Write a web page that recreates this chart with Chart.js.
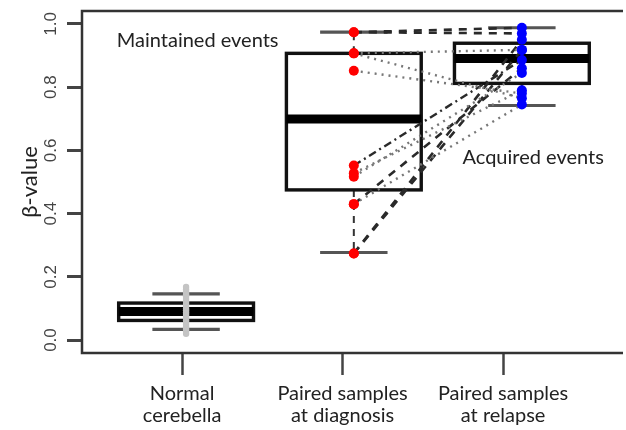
<!DOCTYPE html>
<html>
<head>
<meta charset="utf-8">
<script src="https://cdn.jsdelivr.net/npm/chart.js@4.4.1/dist/chart.umd.min.js"></script>
<style>
  html, body { margin: 0; padding: 0; background: #fff; overflow: hidden; }
  #wrap { width: 626px; height: 430px; position: relative; }
</style>
</head>
<body>
<div id="wrap"><canvas id="chart"></canvas></div>
<script>
'use strict';

/* Groups on the x axis */
const groupLabels  = [['Normal', 'cerebella'], ['Paired samples', 'at diagnosis'], ['Paired samples', 'at relapse']];
const groupTicks   = [1, 2, 3];
const groupCenters = [1.025, 2.07, 3.117];
const yTicks       = [0, 0.2, 0.4, 0.6, 0.8, 1.0];

/* Box statistics per group */
const whiskerLow  = [0.034, 0.277, 0.742];
const boxQ1       = [0.062, 0.475, 0.812];
const boxMedian   = [0.090, 0.699, 0.891];
const boxQ3       = [0.117, 0.907, 0.939];
const whiskerHigh = [0.146, 0.974, 0.988];

/* Normal cerebella samples */
const normalValues = [0.168, 0.16, 0.152, 0.145, 0.138, 0.13, 0.122, 0.115, 0.108, 0.1, 0.094,
                      0.088, 0.082, 0.076, 0.07, 0.063, 0.056, 0.049, 0.042, 0.035, 0.028, 0.02];

/* Paired events: value at diagnosis -> value at relapse */
const diagnosisValues = [0.974, 0.974, 0.907, 0.907, 0.852, 0.552, 0.528, 0.517, 0.430, 0.430, 0.274, 0.274];
const relapseValues   = [0.988, 0.970, 0.918, 0.765, 0.780, 0.886, 0.790, 0.845, 0.745, 0.860, 0.918, 0.950];
const pairLineTypes   = ['dash', 'dash', 'dot', 'dot', 'dot', 'dotdash', 'dot', 'dot', 'dot', 'dash', 'dash', 'dash'];

/* Free text labels (data coordinates) */
const notes = [
  { text: 'Maintained events', x: 0.593, y: 0.949 },
  { text: 'Acquired events',   x: 2.747, y: 0.576 },
];

const FONT = 'Lato, "Open Sans", sans-serif';
const BOX_HALF = 0.42;
const WHISKER_HALF = 0.21;

const dashFor = {
  dash:    { dash: [8, 7], color: '#2a2a2a', width: 2.6 },
  dot:     { dash: [2, 5], color: '#777', width: 2.4 },
  dotdash: { dash: [8, 4, 2, 4], color: '#2a2a2a', width: 2.4 },
};

/* Boxes and whiskers under the data */
const boxPlugin = {
  id: 'boxes',
  beforeDatasetsDraw(chart) {
    const { ctx, scales: { x, y } } = chart;
    ctx.save();
    groupCenters.forEach((c, i) => {
      const cx = x.getPixelForValue(c);
      const bl = x.getPixelForValue(c - BOX_HALF);
      const br = x.getPixelForValue(c + BOX_HALF);
      const wl = x.getPixelForValue(c - WHISKER_HALF);
      const wr = x.getPixelForValue(c + WHISKER_HALF);
      const yLo = y.getPixelForValue(whiskerLow[i]);
      const yQ1 = y.getPixelForValue(boxQ1[i]);
      const yMd = y.getPixelForValue(boxMedian[i]);
      const yQ3 = y.getPixelForValue(boxQ3[i]);
      const yHi = y.getPixelForValue(whiskerHigh[i]);

      /* whisker stems */
      ctx.strokeStyle = '#333';
      ctx.lineWidth = 2;
      ctx.setLineDash([7, 6]);
      ctx.beginPath();
      ctx.moveTo(cx, yQ1); ctx.lineTo(cx, yLo);
      ctx.moveTo(cx, yQ3); ctx.lineTo(cx, yHi);
      ctx.stroke();
      ctx.setLineDash([]);

      /* staples */
      ctx.strokeStyle = '#555';
      ctx.lineWidth = 3.2;
      ctx.beginPath();
      ctx.moveTo(wl, yLo); ctx.lineTo(wr, yLo);
      ctx.moveTo(wl, yHi); ctx.lineTo(wr, yHi);
      ctx.stroke();

      /* box */
      ctx.fillStyle = '#fff';
      ctx.fillRect(bl, yQ3, br - bl, yQ1 - yQ3);
      ctx.strokeStyle = '#111';
      ctx.lineWidth = 3.4;
      ctx.strokeRect(bl, yQ3, br - bl, yQ1 - yQ3);

      /* median */
      ctx.strokeStyle = '#000';
      ctx.lineWidth = 9;
      ctx.beginPath();
      ctx.moveTo(bl, yMd); ctx.lineTo(br, yMd);
      ctx.stroke();
    });
    ctx.restore();
  },
  afterDraw(chart) {
    const { ctx, chartArea: a, scales: { x, y } } = chart;
    ctx.save();

    /* plot frame (open on the right) */
    ctx.strokeStyle = '#333';
    ctx.lineWidth = 2.5;
    ctx.beginPath();
    ctx.moveTo(a.right + 2, a.top);
    ctx.lineTo(a.left, a.top);
    ctx.lineTo(a.left, a.bottom);
    ctx.lineTo(a.right + 2, a.bottom);
    ctx.stroke();

    /* rotated y tick labels */
    ctx.fillStyle = '#444';
    ctx.font = '17px "Liberation Sans", Arial, sans-serif';
    ctx.textAlign = 'center';
    ctx.textBaseline = 'middle';
    yTicks.forEach(v => {
      ctx.save();
      ctx.translate(51, y.getPixelForValue(v));
      ctx.rotate(-Math.PI / 2);
      ctx.fillText(v.toFixed(1), 0, 0);
      ctx.restore();
    });

    /* notes */
    ctx.fillStyle = '#222';
    ctx.font = '20px ' + FONT;
    ctx.textAlign = 'left';
    notes.forEach(n => ctx.fillText(n.text, x.getPixelForValue(n.x), y.getPixelForValue(n.y)));
    ctx.restore();
  },
};

/* Datasets: connecting lines first, points on top */
const lineSets = diagnosisValues.map((d, i) => {
  const st = dashFor[pairLineTypes[i]];
  return {
    data: [{ x: groupCenters[1], y: d }, { x: groupCenters[2], y: relapseValues[i] }],
    showLine: true,
    borderColor: st.color,
    borderWidth: st.width,
    borderDash: st.dash,
    pointRadius: 0,
    order: 2,
  };
});

const pointSets = [
  {
    data: normalValues.map(v => ({ x: groupCenters[0], y: v })),
    backgroundColor: '#c4c4c4', borderWidth: 0, pointRadius: 3.2, order: 1,
  },
  {
    data: diagnosisValues.map(v => ({ x: groupCenters[1], y: v })),
    backgroundColor: '#ff0000', borderWidth: 0, pointRadius: 5, order: 0,
  },
  {
    data: relapseValues.map(v => ({ x: groupCenters[2], y: v })),
    backgroundColor: '#0000ff', borderWidth: 0, pointRadius: 5, order: 0,
  },
];

new Chart(document.getElementById('chart'), {
  type: 'scatter',
  data: { datasets: [...lineSets, ...pointSets] },
  options: {
    responsive: true,
    maintainAspectRatio: false,
    animation: false,
    layout: { padding: { top: 11, left: 0, right: 0, bottom: 0 } },
    plugins: { legend: { display: false }, tooltip: { enabled: false } },
    scales: {
      x: {
        type: 'linear',
        min: 0.3765,
        max: 3.7346,
        afterBuildTicks: s => { s.ticks = groupTicks.map(v => ({ value: v })); },
        afterFit: s => { s.height = 77; },
        border: { display: false },
        grid: { display: true, drawOnChartArea: false, drawTicks: true, tickLength: 22, tickWidth: 2.5, tickColor: '#444' },
        ticks: {
          padding: 7,
          color: '#222',
          font: { family: FONT, size: 20, lineHeight: 1.12 },
          maxRotation: 0,
          callback: (v, i) => groupLabels[i],
        },
      },
      y: {
        min: -0.041,
        max: 1.041,
        afterBuildTicks: s => { s.ticks = yTicks.map(v => ({ value: v })); },
        afterFit: s => { s.width = 82; },
        border: { display: false },
        grid: { display: true, drawOnChartArea: false, drawTicks: true, tickLength: 15, tickWidth: 3, tickColor: '#444' },
        ticks: { display: false },
        title: {
          display: true,
          text: 'β-value',
          color: '#222',
          font: { family: FONT, size: 22 },
          padding: { top: 17, bottom: 0 },
        },
      },
    },
  },
  plugins: [boxPlugin],
});
</script>
</body>
</html>
